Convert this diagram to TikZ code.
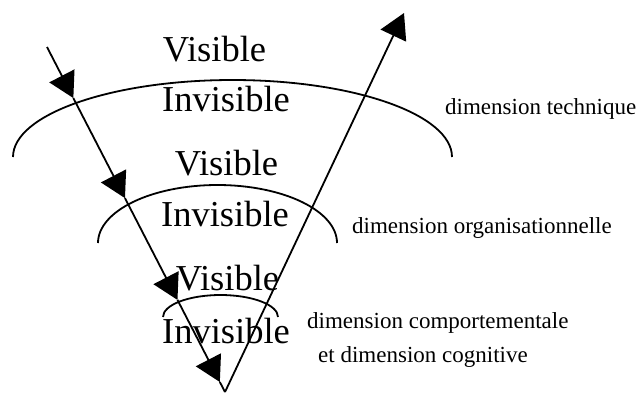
\documentclass[tikz,border=0pt]{standalone}
\usepackage{fontspec}
\setmainfont{Liberation Serif}
\usetikzlibrary{arrows.meta,calc}
\begin{document}
\begin{tikzpicture}[x=1pt,y=1pt,
  ln/.style={line width=1.8pt},
  arw/.style={ln,-{Triangle[length=25pt,width=28pt]}},
  arcl/.style={line width=1.8pt},
  big/.style={font=\fontsize{36.5}{40}\selectfont,anchor=base,inner sep=0pt},
  lab/.style={font=\fontsize{23}{26}\selectfont,anchor=base west,inner sep=0pt}]
\useasboundingbox (0,0) rectangle (636,-392);
% arcs
\draw[arcl] (13,-157) arc[start angle=180,end angle=0,x radius=219.5pt,y radius=77pt];
\draw[arcl] (98,-243) arc[start angle=180,end angle=0,x radius=119.5pt,y radius=58pt];
\draw[arcl] (163,-317) arc[start angle=180,end angle=0,x radius=57.5pt,y radius=22pt];
% V lines
\coordinate (s) at (47,-47);
\coordinate (v) at (225,-392);
\coordinate (e) at (404,-13);
\coordinate (t1) at ($(s)!0.148!(v)$);
\coordinate (t2) at ($(s)!0.438!(v)$);
\coordinate (t3) at ($(s)!0.733!(v)$);
\coordinate (t4) at ($(s)!0.971!(v)$);
\draw[arw] (s) -- (t1);
\draw[arw] (t1) -- (t2);
\draw[arw] (t2) -- (t3);
\draw[arw] (t3) -- (t4);
\draw[ln] (t4) -- (v);
\draw[arw] (v) -- (e);
% texts
\node[big] (v1) at (214.5,-61) {Visible};
\node[big] (i1) at (226,-111) {Invisible};
\node[big] (v2) at (226.5,-175) {Visible};
\node[big] (i2) at (225,-226) {Invisible};
\node[big] (v3) at (227.5,-290) {Visible};
\node[big] (i3) at (226,-343) {Invisible};
\node[lab] (d1) at (445,-114) {dimension technique};
\node[lab] (d2) at (352,-233) {dimension organisationnelle};
\node[lab] (d3) at (307,-328) {dimension comportementale};
\node[lab] (d4) at (318,-362) {et dimension cognitive};
\end{tikzpicture}
\end{document}
